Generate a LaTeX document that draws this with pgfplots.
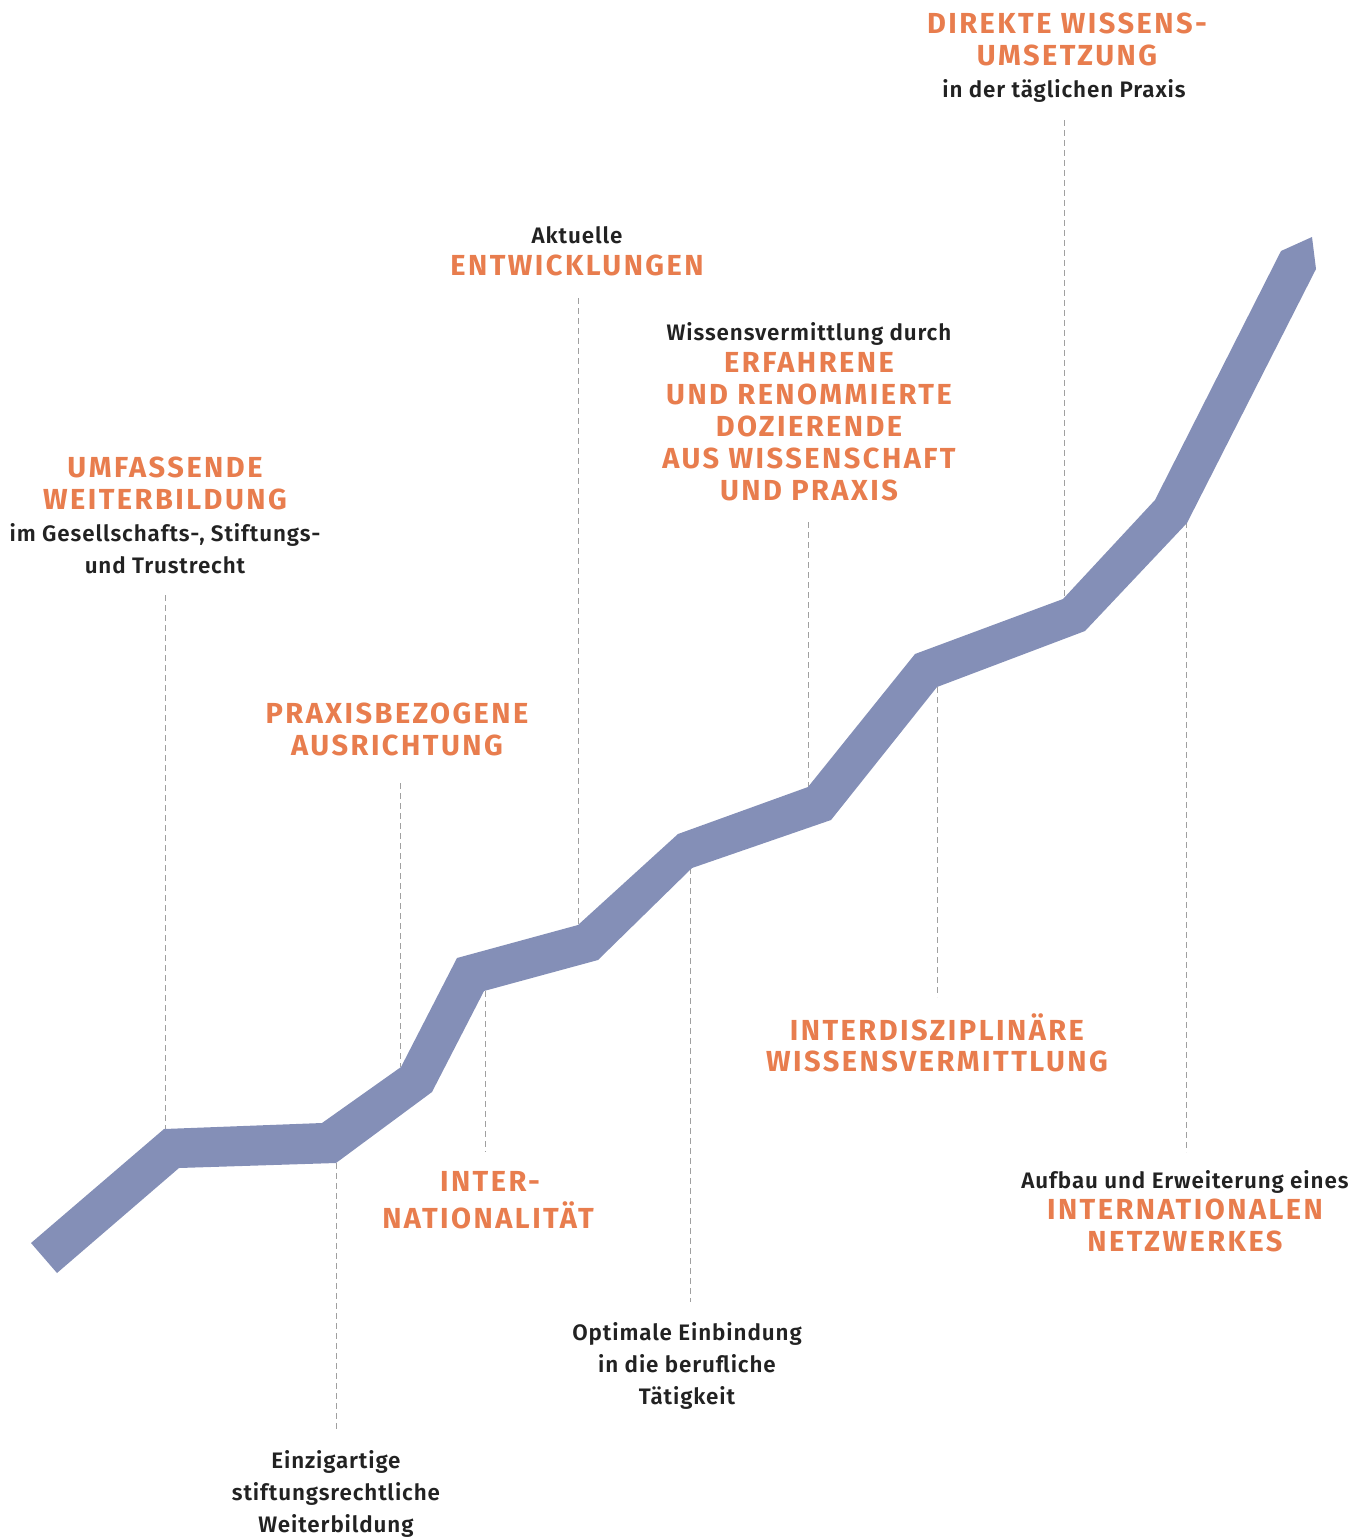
\documentclass[border=0pt]{standalone}
\usepackage{pgfplots}
\pgfplotsset{compat=1.18}
\usepackage{fontspec}
\setmainfont{Fira Sans}[BoldFont={Fira Sans SemiBold}]
\newfontfamily\orfont{Fira Sans Bold}[LetterSpace=8.5]
\newfontfamily\bkfont{Fira Sans SemiBold}[LetterSpace=4]
\definecolor{band}{RGB}{132,143,183}
\definecolor{orng}{RGB}{232,125,78}
\definecolor{txt}{RGB}{34,34,34}
\definecolor{dashgray}{RGB}{160,160,160}
\begin{document}
\begin{tikzpicture}[x=1pt,y=1pt]
\begin{axis}[
  width=685pt, height=769pt, scale only axis,
  xmin=0, xmax=1370, ymin=0, ymax=1538, y dir=reverse,
  hide axis, clip=false,
]
\pgfplotsset{dl/.style={color=dashgray, line width=0.5pt, dash pattern=on 3pt off 2pt}}
% dashed connector lines
\addplot[dl] coordinates {(165,595) (165,1130)};
\addplot[dl] coordinates {(336,1163) (336,1432)};
\addplot[dl] coordinates {(400,783) (400,1067)};
\addplot[dl] coordinates {(485,991) (485,1152)};
\addplot[dl] coordinates {(578,298) (578,925)};
\addplot[dl] coordinates {(690,868) (690,1302)};
\addplot[dl] coordinates {(808,522) (808,787)};
\addplot[dl] coordinates {(937,687) (937,997)};
\addplot[dl] coordinates {(1064,120) (1064,599)};
\addplot[dl] coordinates {(1186,522) (1186,1152)};
% band
\addplot[fill=band, draw=none] coordinates {
 (31,1243) (164,1129) (322,1123) (401,1067) (457,958) (578,925) (678,834)
 (808,787) (915,654) (1063,599) (1155,500) (1281,251) (1312,237) (1316,269)
 (1187,523) (1085,631) (937,687) (831,820) (692,868) (598,960) (484,991)
 (432,1092) (336,1163) (179,1168) (57,1273)} -- cycle;
% labels
\tikzset{
  o/.style={anchor=base, text=orng, font=\orfont\fontsize{14.5}{16}\selectfont, inner sep=0pt},
  k/.style={anchor=base, text=txt, font=\bkfont\fontsize{11.2}{16}\selectfont, inner sep=0pt},
}
\node[o] at (axis cs:165,477) {UMFASSENDE};
\node[o] at (axis cs:165,509) {WEITERBILDUNG};
\node[k] at (axis cs:165,541) {im Gesellschafts-, Stiftungs-};
\node[k] at (axis cs:165,573) {und Trustrecht};

\node[o] at (axis cs:397,723) {PRAXISBEZOGENE};
\node[o] at (axis cs:397,755) {AUSRICHTUNG};

\node[k] at (axis cs:577,243) {Aktuelle};
\node[o] at (axis cs:577,275) {ENTWICKLUNGEN};

\node[k] at (axis cs:809,340) {Wissensvermittlung durch};
\node[o] at (axis cs:809,372) {ERFAHRENE};
\node[o] at (axis cs:809,404) {UND RENOMMIERTE};
\node[o] at (axis cs:809,436) {DOZIERENDE};
\node[o] at (axis cs:809,468) {AUS WISSENSCHAFT};
\node[o] at (axis cs:809,500) {UND PRAXIS};

\node[o] at (axis cs:1067,33) {DIREKTE WISSENS-};
\node[o] at (axis cs:1067,65) {UMSETZUNG};
\node[k] at (axis cs:1064,97) {in der täglichen Praxis};

\node[o] at (axis cs:490,1191) {INTER-};
\node[o] at (axis cs:488,1228) {NATIONALITÄT};

\node[k] at (axis cs:687,1340) {Optimale Einbindung};
\node[k] at (axis cs:687,1372) {in die berufliche};
\node[k] at (axis cs:687,1404) {Tätigkeit};

\node[k] at (axis cs:336,1468) {Einzigartige};
\node[k] at (axis cs:336,1500) {stiftungsrechtliche};
\node[k] at (axis cs:336,1532) {Weiterbildung};

\node[o] at (axis cs:937,1040) {INTERDISZIPLINÄRE};
\node[o] at (axis cs:937,1071) {WISSENSVERMITTLUNG};

\node[k] at (axis cs:1185,1188) {Aufbau und Erweiterung eines};
\node[o] at (axis cs:1185,1219) {INTERNATIONALEN};
\node[o] at (axis cs:1185,1251) {NETZWERKES};
\end{axis}
\pgfresetboundingbox
\path[use as bounding box] (current axis.south west) rectangle (current axis.north east);
\end{tikzpicture}
\end{document}
